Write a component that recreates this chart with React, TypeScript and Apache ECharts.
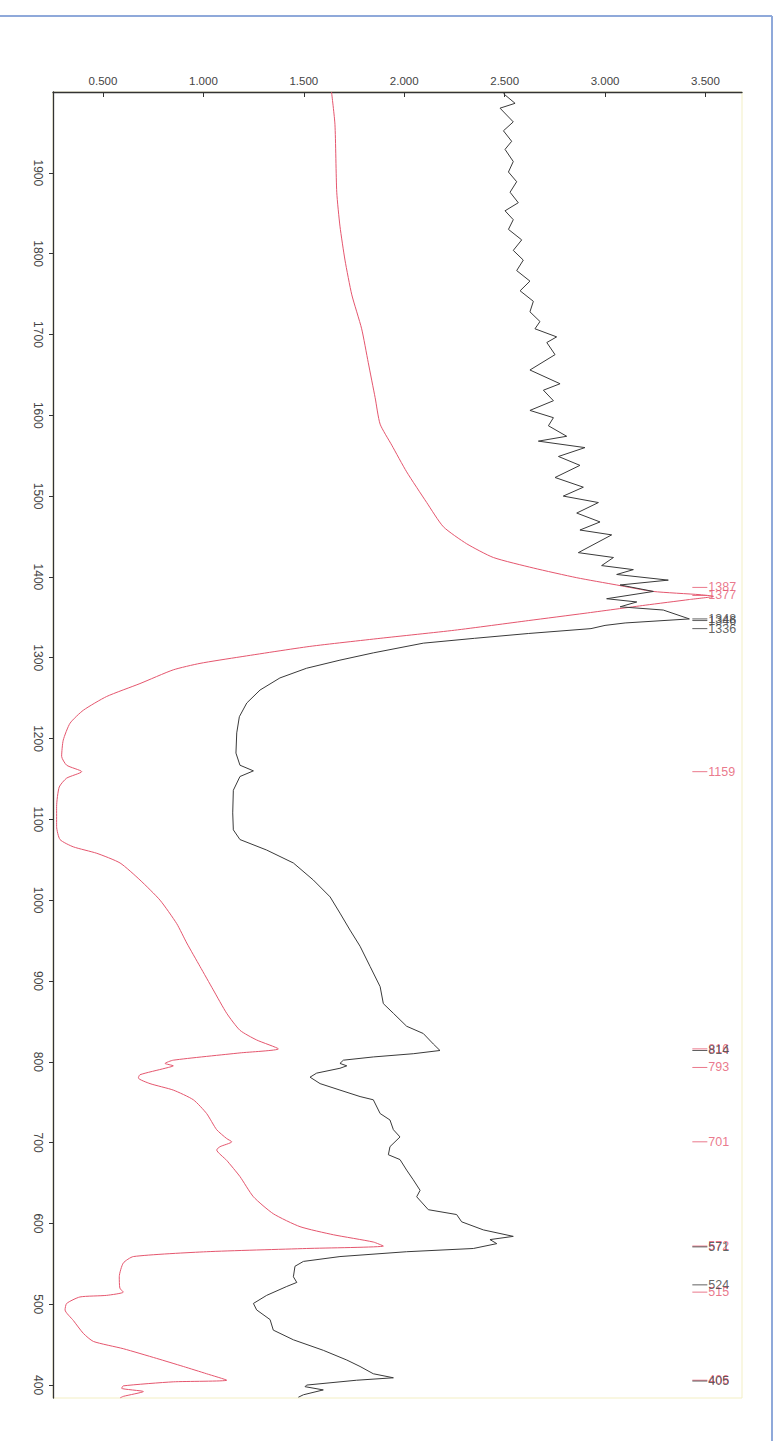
import React, { useEffect, useRef } from "react";
import * as echarts from "echarts";

const xTicks = [0.5, 1.0, 1.5, 2.0, 2.5, 3.0, 3.5];
const yTicks = [400, 500, 600, 700, 800, 900, 1000, 1100, 1200, 1300, 1400, 1500, 1600, 1700, 1800, 1900];

const redWn = [2000, 1960, 1876, 1834, 1792, 1749, 1707, 1665, 1622, 1589, 1563, 1530, 1492, 1462, 1441, 1424, 1411, 1399, 1390, 1382, 1378, 1376,
  1372, 1365, 1355, 1346, 1334, 1324, 1314, 1301, 1293, 1285, 1268, 1252, 1235, 1219, 1198, 1178, 1167, 1159, 1151, 1140, 1116, 1091, 1075, 1066, 1058, 1046, 1025, 1000,
  971, 947, 918, 889, 860, 839, 827, 816, 811, 802, 798, 795, 792, 784, 780, 773, 765, 753, 736, 716, 705, 701, 695, 691, 678, 658, 633, 612, 596, 586, 577, 572,
  569, 565, 559, 551, 534, 520, 515, 511, 509, 501, 493, 480, 464, 454, 445, 433, 423, 414, 406, 404, 399, 396, 392, 386, 384];
const redAbs = [1.638, 1.655, 1.664, 1.68, 1.705, 1.739, 1.788, 1.821, 1.855, 1.88, 1.938, 2.012, 2.112, 2.195, 2.311, 2.444, 2.643, 2.859, 3.058, 3.24, 3.473, 3.54,
  3.42, 3.2, 2.9, 2.62, 2.25, 1.88, 1.53, 1.182, 0.983, 0.85, 0.684, 0.518, 0.402, 0.336, 0.302, 0.294, 0.319, 0.394, 0.319, 0.282, 0.269, 0.269, 0.286, 0.352, 0.469, 0.585, 0.684, 0.784,
  0.867, 0.917, 0.983, 1.049, 1.116, 1.182, 1.265, 1.373, 1.182, 0.85, 0.809, 0.85, 0.809, 0.684, 0.676, 0.734, 0.85, 0.95, 1.016, 1.066, 1.116, 1.141, 1.083, 1.066, 1.116, 1.182, 1.249, 1.348, 1.481, 1.647, 1.846, 1.896,
  1.514, 1.016, 0.651, 0.601, 0.581, 0.584, 0.601, 0.518, 0.385, 0.319, 0.311, 0.352, 0.402, 0.452, 0.601, 0.767, 0.9, 1.016, 1.116, 0.85, 0.601, 0.593, 0.701, 0.601, 0.585];

const blackWn = [1998, 1986, 1980, 1963, 1952, 1939, 1929, 1914, 1901, 1889, 1876, 1863, 1853, 1842, 1830, 1817, 1804, 1792, 1779, 1766, 1754, 1741, 1728, 1716, 1707,
  1697, 1690, 1675, 1656, 1639, 1631, 1618, 1606, 1597, 1587, 1574, 1568, 1560, 1549, 1538, 1523, 1511, 1500, 1492, 1479, 1468, 1458, 1452, 1430, 1424, 1414, 1409,
  1403, 1396, 1390, 1382, 1373, 1369, 1363, 1359, 1348, 1343, 1340, 1336, 1330, 1324, 1318, 1306, 1297, 1287, 1275, 1260, 1244, 1227, 1207, 1182, 1167, 1160, 1153,
  1136, 1108, 1087, 1075, 1062, 1046, 1025, 1004, 984, 963, 943, 918, 893, 872, 860, 844, 835, 822, 814, 810, 806, 802, 798, 795, 792, 786, 781, 773, 765, 757, 753,
  736, 728, 716, 707, 695, 685, 679, 666, 654, 641, 633, 617, 611, 602, 592, 584, 580, 575, 569, 565, 559, 553, 547, 534, 527, 522, 511, 501, 493, 481, 468, 456,
  443, 431, 423, 414, 409, 406, 400, 398, 394, 388, 385];
const blackAbs = [2.494, 2.552, 2.477, 2.543, 2.494, 2.535, 2.502, 2.543, 2.519, 2.56, 2.527, 2.568, 2.502, 2.543, 2.519, 2.585, 2.543, 2.593, 2.56, 2.626, 2.577, 2.643, 2.626, 2.676, 2.651,
  2.759, 2.71, 2.751, 2.626, 2.776, 2.693, 2.743, 2.626, 2.743, 2.718, 2.809, 2.668, 2.9, 2.768, 2.875, 2.751, 2.892, 2.792, 2.967, 2.859, 2.975, 2.875, 3.033, 2.867, 3.042, 2.983, 3.141,
  3.058, 3.315, 3.075, 3.241, 3.008, 3.158, 3.075, 3.29, 3.42, 3.1, 3.0, 2.93, 2.62, 2.35, 2.095, 1.846, 1.68, 1.514, 1.381, 1.282, 1.216, 1.179, 1.166, 1.162, 1.182, 1.249, 1.182,
  1.149, 1.146, 1.149, 1.182, 1.315, 1.448, 1.547, 1.631, 1.68, 1.73, 1.78, 1.83, 1.88, 1.896, 1.946, 2.012, 2.095, 2.145, 2.178, 2.045, 1.846, 1.697, 1.68, 1.714, 1.68, 1.564, 1.531, 1.581, 1.68, 1.78, 1.846,
  1.88, 1.929, 1.946, 1.979, 1.929, 1.921, 1.979, 2.012, 2.045, 2.079, 2.062, 2.12, 2.261, 2.286, 2.394, 2.543, 2.427, 2.461, 2.344, 2.012, 1.68, 1.498, 1.456, 1.448, 1.465, 1.415, 1.315, 1.249, 1.265, 1.332, 1.348, 1.448,
  1.597, 1.714, 1.78, 1.846, 1.946, 1.763, 1.514, 1.506, 1.597, 1.498, 1.473];

const redPeaks = [1387, 1377, 1159, 816, 793, 701, 572, 515, 406];
const blackPeaks = [1348, 1346, 1336, 814, 571, 524, 405];

const RED = "#e5566e";
const BLACK = "#3a3a3a";
const LABEL_X = 3.472;
const FONT = "Liberation Sans, Arial, sans-serif";

function pairs(wn: number[], ab: number[]) {
  return wn.map((w, i) => [ab[i], w]);
}

function peakSeries(peaks: number[], color: string) {
  return {
    type: "scatter",
    data: peaks.map((w) => [LABEL_X, w]),
    symbol: "rect",
    symbolSize: [15, 1],
    itemStyle: { color },
    z: 5,
    label: {
      show: true,
      position: "right",
      distance: 1,
      formatter: (p: any) => String(p.value[1]),
      color,
      fontSize: 12.5,
      fontFamily: FONT,
    },
  };
}

export default function App() {
  const ref = useRef<HTMLDivElement>(null);
  useEffect(() => {
    if (!ref.current) return;
    const chart = echarts.init(ref.current, undefined, { renderer: "svg" });
    chart.setOption({
      animation: false,
      backgroundColor: "#ffffff",
      grid: {
        left: 53,
        right: 40,
        top: 92,
        bottom: 43,
        show: true,
        borderColor: "#f3efc4",
        borderWidth: 1,
      },
      xAxis: {
        type: "value",
        position: "top",
        min: 0.251,
        max: 3.682,
        splitLine: { show: false },
        axisLine: { show: true, lineStyle: { color: "#333", width: 1.3 } },
        axisTick: { show: true, inside: true, length: 5, customValues: xTicks, lineStyle: { color: "#333" } },
        axisLabel: {
          customValues: xTicks,
          formatter: (v: number) => v.toFixed(3),
          color: "#444",
          fontSize: 11.5,
          margin: 5,
          fontFamily: FONT,
        },
      },
      yAxis: {
        type: "value",
        position: "left",
        min: 384,
        max: 2000,
        splitLine: { show: false },
        axisLine: { show: true, lineStyle: { color: "#333", width: 1.3 } },
        axisTick: { show: true, length: 4, customValues: yTicks, lineStyle: { color: "#333" } },
        axisLabel: {
          customValues: yTicks,
          rotate: -90,
          formatter: (v: number) => String(v),
          color: "#444",
          fontSize: 12,
          margin: 9,
          fontFamily: FONT,
        },
      },
      graphic: [
        { type: "line", shape: { x1: 0, y1: 16, x2: 772, y2: 16 }, style: { stroke: "#8fa9da", lineWidth: 2 } },
        { type: "line", shape: { x1: 772, y1: 16, x2: 772, y2: 1441 }, style: { stroke: "#8fa9da", lineWidth: 2 } },
      ],
      series: [
        {
          type: "line",
          data: pairs(redWn, redAbs),
          showSymbol: false,
          smooth: 0.2,
          lineStyle: { color: RED, width: 1 },
          z: 3,
        },
        {
          type: "line",
          data: pairs(blackWn, blackAbs),
          showSymbol: false,
          lineStyle: { color: BLACK, width: 1 },
          z: 4,
        },
        peakSeries(redPeaks, RED),
        peakSeries(blackPeaks, BLACK),
      ],
    });
    return () => chart.dispose();
  }, []);
  return (
    <div
      ref={ref}
      style={{ position: "absolute", left: 0, top: 0, width: 782, height: 1441, background: "#fff" }}
    />
  );
}
